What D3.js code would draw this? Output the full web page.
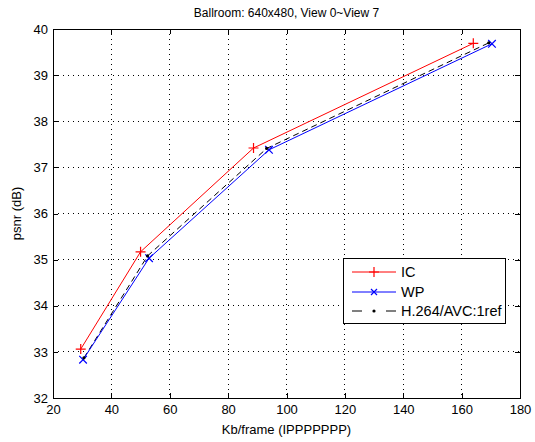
<!DOCTYPE html>
<html><head><meta charset="utf-8">
<script src="https://d3js.org/d3.v7.min.js"></script>
<style>body{margin:0;background:#fff}svg{display:block;font-family:"Liberation Sans",Arial,sans-serif}</style>
</head><body><svg id="c" width="535" height="442"></svg>
<script>
const title = "Ballroom: 640x480, View 0~View 7";
const xLabel = "Kb/frame (IPPPPPPP)";
const yLabel = "psnr (dB)";
const xTicks = [20,40,60,80,100,120,140,160,180];
const yTicks = [32,33,34,35,36,37,38,39,40];
const icX = [29.5, 50.0, 88.7, 164.0];
const icY = [33.06, 35.17, 37.42, 39.69];
const wpX = [30.3, 52.9, 94.0, 170.4];
const wpY = [32.83, 35.03, 37.38, 39.68];
const h264X = [30.6, 52.4, 93.2, 169.3];
const h264Y = [32.87, 35.08, 37.41, 39.70];
const seriesNames = ["IC","WP","H.264/AVC:1ref"];

const svg = d3.select("#c");
const L=53, R=520, T=29, B=398;
const x = d3.scaleLinear().domain([20,180]).range([L,R]);
const y = d3.scaleLinear().domain([32,40]).range([B,T]);

// grid
const g = svg.append("g");
g.selectAll(".gx").data(xTicks.slice(1,-1)).join("line")
  .attr("x1",d=>x(d)).attr("x2",d=>x(d)).attr("y1",T).attr("y2",B)
  .attr("stroke","#000").attr("stroke-width",1).attr("stroke-dasharray","1,4").attr("shape-rendering","crispEdges");
g.selectAll(".gy").data(yTicks.slice(1,-1)).join("line")
  .attr("y1",d=>y(d)).attr("y2",d=>y(d)).attr("x1",L).attr("x2",R)
  .attr("stroke","#000").attr("stroke-width",1).attr("stroke-dasharray","1,4").attr("shape-rendering","crispEdges");

// axes
const tl = 5;
const ax = svg.append("g").attr("transform",`translate(0,${B})`)
  .call(d3.axisBottom(x).tickValues(xTicks).tickSize(-tl).tickPadding(4).tickFormat(d3.format("d")));
const axT = svg.append("g").attr("transform",`translate(0,${T})`)
  .call(d3.axisTop(x).tickValues(xTicks).tickSize(-tl).tickFormat(""));
const ay = svg.append("g").attr("transform",`translate(${L},0)`)
  .call(d3.axisLeft(y).tickValues(yTicks).tickSize(-tl).tickPadding(4).tickFormat(d3.format("d")));
const ayR = svg.append("g").attr("transform",`translate(${R},0)`)
  .call(d3.axisRight(y).tickValues(yTicks).tickSize(-tl).tickFormat(""));
[ax,axT,ay,ayR].forEach(a=>{
  a.selectAll("path").attr("stroke","#000").attr("shape-rendering","crispEdges");
  a.selectAll("line").attr("stroke","#000").attr("shape-rendering","crispEdges");
  a.selectAll("text").attr("font-size",13).attr("fill","#000").attr("font-family","Liberation Sans, Arial, sans-serif");
});
ax.selectAll("text").attr("dy","0.9em");
ay.selectAll("text").attr("dx","-1");

// lines
const line = d3.line().x(d=>x(d[0])).y(d=>y(d[1]));
const ic = icX.map((v,i)=>[v,icY[i]]);
const wp = wpX.map((v,i)=>[v,wpY[i]]);
const h2 = h264X.map((v,i)=>[v,h264Y[i]]);

svg.append("path").datum(h2).attr("d",line).attr("fill","none").attr("stroke","#000").attr("stroke-width",1).attr("stroke-dasharray","6,4");
svg.append("path").datum(ic).attr("d",line).attr("fill","none").attr("stroke","#ff0000").attr("stroke-width",1);
svg.append("path").datum(wp).attr("d",line).attr("fill","none").attr("stroke","#0000ff").attr("stroke-width",1);

function plus(sel,cx,cy,s,c){sel.append("path").attr("d",`M${cx-s},${cy}H${cx+s}M${cx},${cy-s}V${cy+s}`).attr("stroke",c).attr("stroke-width",1.2).attr("fill","none");}
function cross(sel,cx,cy,s,c){sel.append("path").attr("d",`M${cx-s},${cy-s}L${cx+s},${cy+s}M${cx-s},${cy+s}L${cx+s},${cy-s}`).attr("stroke",c).attr("stroke-width",1.2).attr("fill","none");}
function dot(sel,cx,cy,c){sel.append("circle").attr("cx",cx).attr("cy",cy).attr("r",1.6).attr("fill",c);}
ic.forEach(d=>plus(svg,x(d[0]),y(d[1]),5,"#ff0000"));
wp.forEach(d=>cross(svg,x(d[0]),y(d[1]),3.8,"#0000ff"));
h2.forEach(d=>dot(svg,x(d[0]),y(d[1]),"#000"));

// title and labels
svg.append("text").attr("x",(L+R)/2).attr("y",17).attr("text-anchor","middle").attr("font-size",12).text(title);
svg.append("text").attr("x",(L+R)/2).attr("y",434).attr("text-anchor","middle").attr("font-size",13).text(xLabel);
svg.append("text").attr("transform",`translate(21,${(T+B)/2}) rotate(-90)`).attr("text-anchor","middle").attr("font-size",13).text(yLabel);

// legend
const lg = svg.append("g");
const lx=343, ly=258, lw=162, lh=65;
lg.append("rect").attr("x",lx+0.5).attr("y",ly+0.5).attr("width",lw).attr("height",lh).attr("fill","#fff").attr("stroke","#000").attr("stroke-width",1);
const rows=[ly+14, ly+34, ly+53];
const colors=["#ff0000","#0000ff","#000"];
rows.forEach((ry,i)=>{
  const ln = lg.append("line").attr("x1",lx+9).attr("x2",lx+53).attr("y1",ry).attr("y2",ry).attr("stroke",colors[i]).attr("stroke-width",1);
  if(i===2) ln.attr("stroke-dasharray","10,24");
  const mx=lx+31;
  if(i===0) plus(lg,mx,ry,5,colors[i]);
  if(i===1) cross(lg,mx,ry,3,colors[i]);
  if(i===2) dot(lg,mx,ry,"#000");
  lg.append("text").attr("x",lx+58).attr("y",ry+5).attr("font-size",14.5).text(seriesNames[i]);
});
</script></body></html>
